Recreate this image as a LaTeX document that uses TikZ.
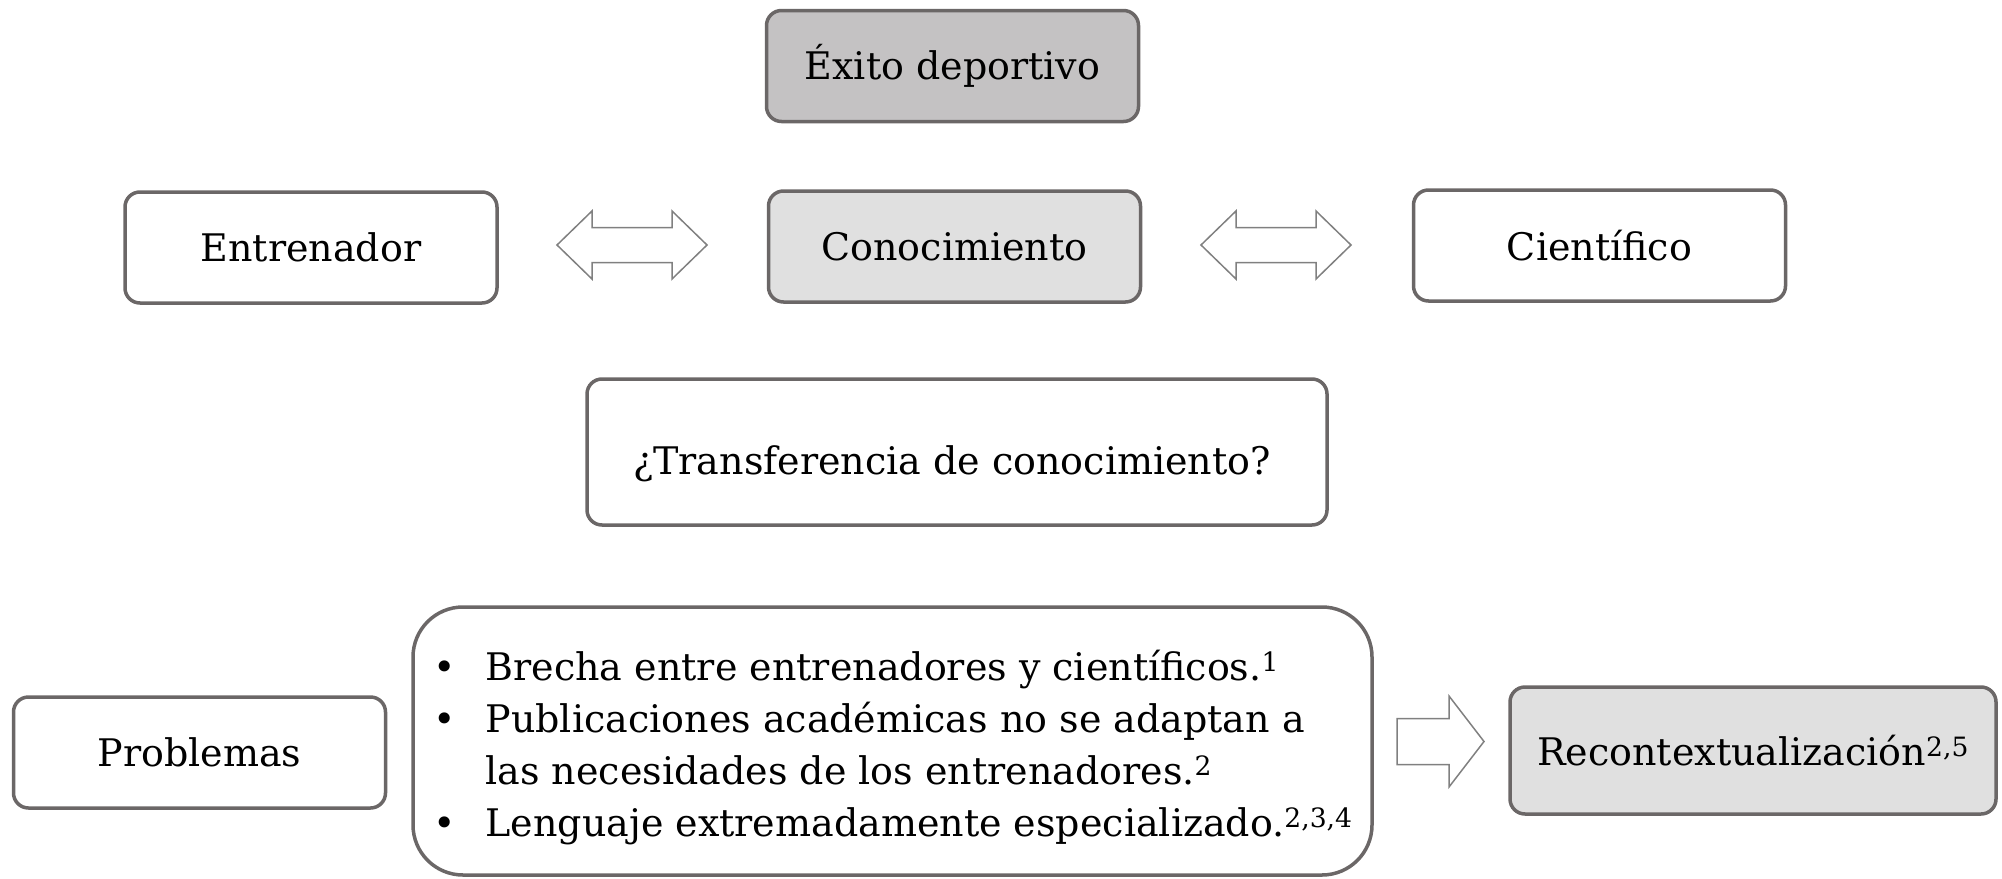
\documentclass[tikz,border=0pt]{standalone}
\usepackage{fontspec}
\setmainfont{DejaVu Serif}
\usetikzlibrary{calc}
\definecolor{edge}{HTML}{6B6767}
\definecolor{darkfill}{HTML}{C4C2C3}
\definecolor{lightfill}{HTML}{E0E0E0}
\definecolor{arrowedge}{HTML}{808080}
\tikzset{
  box/.style={draw=edge, line width=3.5pt, rounded corners=15pt, fill=white,
    minimum width=372pt, minimum height=111pt, inner sep=0pt,
    font=\fontsize{38}{46}\selectfont, text=black},
  boxtext/.style={inner sep=0pt, font=\fontsize{38}{46}\selectfont, text=black},
  blockarrow/.style={draw=arrowedge, line width=1.5pt, fill=white, line join=miter},
}
\begin{document}
\begin{tikzpicture}[x=1pt,y=-1pt]
\useasboundingbox (0,0) rectangle (2002,878);
% top
\node[box, fill=darkfill] (exito) at (952.5,66) {Éxito deportivo};
% row 2
\node[box] (entr) at (311,247.5) {Entrenador};
\node[box, fill=lightfill] (cono) at (954.5,246.5) {Conocimiento};
\node[box] (cien) at (1599.5,245.5) {Científico};
% arrows row 2
\coordinate (a1) at (632,245);
\draw[blockarrow] ($(a1)+(-75,0)$) -- ++(35,-34) -- ++(0,16.5) -- ++(80,0) -- ++(0,-16.5)
  -- ++(35,34) -- ++(-35,34) -- ++(0,-16.5) -- ++(-80,0) -- ++(0,16.5) -- cycle;
\coordinate (a2) at (1276,245);
\draw[blockarrow] ($(a2)+(-75,0)$) -- ++(35,-34) -- ++(0,16.5) -- ++(80,0) -- ++(0,-16.5)
  -- ++(35,34) -- ++(-35,34) -- ++(0,-16.5) -- ++(-80,0) -- ++(0,16.5) -- cycle;
% transfer
\node[box, minimum width=740pt, minimum height=146pt] (trans) at (957,452) {};
\node[boxtext] (transtext) at ($(trans.center)+(-5,12)$) {¿Transferencia de conocimiento?};
% bottom row
\node[box] (prob) at (199.5,752.5) {Problemas};
\node[box, rounded corners=50pt, minimum width=959pt, minimum height=268pt] (bul) at (892.5,741) {};
\node[anchor=west, inner sep=0pt, font=\fontsize{38}{52}\selectfont, align=left] (bultext) at (433,748)
  {\begin{tabular}{@{}l@{\hspace{30pt}}l@{}}
   • & Brecha entre entrenadores y científicos.\textsuperscript{1}\\
   • & Publicaciones académicas no se adaptan a\\
     & las necesidades de los entrenadores.\textsuperscript{2}\\
   • & Lenguaje extremadamente especializado.\textsuperscript{2,3,4}
   \end{tabular}};
\coordinate (a3) at (1397,741.5);
\draw[blockarrow] (a3) -- ++(0,-23) -- ++(52,0) -- ++(0,-22.5) -- ++(35,45.5) -- ++(-35,45.5)
  -- ++(0,-22.5) -- ++(-52,0) -- cycle;
\node[box, fill=lightfill, minimum width=486pt, minimum height=127pt] (recon) at (1753,750.5) {Recontextualización\textsuperscript{2,5}};
\end{tikzpicture}
\end{document}
